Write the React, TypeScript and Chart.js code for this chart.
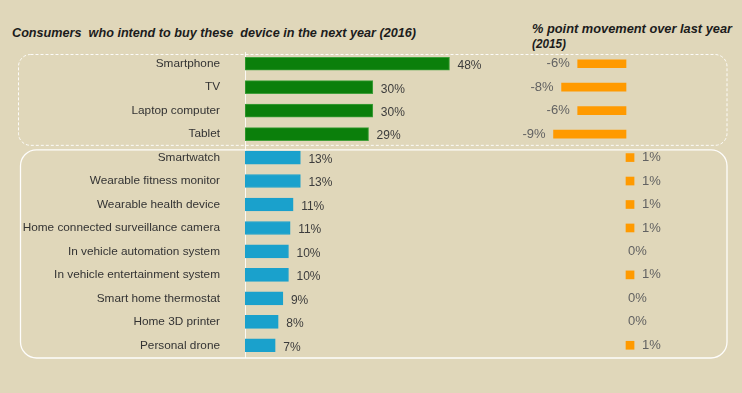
import React, { useEffect, useLayoutEffect, useRef } from "react";
import { Chart, registerables } from "chart.js";

Chart.register(...registerables);

// ---------- data ----------
const categories = [
  "Smartphone",
  "TV",
  "Laptop computer",
  "Tablet",
  "Smartwatch",
  "Wearable fitness monitor",
  "Wearable health device",
  "Home connected surveillance camera",
  "In vehicle automation system",
  "In vehicle entertainment system",
  "Smart home thermostat",
  "Home 3D printer",
  "Personal drone",
];
const intent2016 = [48, 30, 30, 29, 13, 13, 11.3, 10.6, 10.2, 10.2, 8.9, 7.8, 7.1];
const change2015 = [-6, -8, -6, -9, 1, 1, 1, 1, 0, 1, 0, 0, 1];
const topGroupSize = 4;

const leftTitle = "Consumers  who intend to buy these  device in the next year (2016)";
const rightTitle1 = "% point movement over last year";
const rightTitle2 = "(2015)";

// ---------- styles ----------
const BG = "#e0d7ba";
const GREEN = "#0b7f0b";
const GREEN_BORDER = "#3f9f3a";
const BLUE = "#1aa1cc";
const ORANGE = "#ff9a00";
const FONT = "'Liberation Sans', Arial, sans-serif";
const TITLE_FONT = "'Liberation Sans Narrow', 'Arial Narrow', 'Liberation Sans', Arial, sans-serif";

function roundRect(ctx: CanvasRenderingContext2D, x: number, y: number, w: number, h: number, r: number) {
  ctx.beginPath();
  ctx.moveTo(x + r, y);
  ctx.lineTo(x + w - r, y);
  ctx.arcTo(x + w, y, x + w, y + r, r);
  ctx.lineTo(x + w, y + h - r);
  ctx.arcTo(x + w, y + h, x + w - r, y + h, r);
  ctx.lineTo(x + r, y + h);
  ctx.arcTo(x, y + h, x, y + h - r, r);
  ctx.lineTo(x, y + r);
  ctx.arcTo(x, y, x + r, y, r);
  ctx.closePath();
}

const boxesPlugin = {
  id: "groupBoxes",
  beforeDatasetsDraw(chart: any) {
    const { ctx, chartArea } = chart;
    const yScale = chart.scales.y;
    const rowH = (chartArea.bottom - chartArea.top) / categories.length;
    const split = yScale.getPixelForValue(topGroupSize - 1) + rowH / 2;
    ctx.save();
    // top dashed box
    ctx.strokeStyle = "rgba(255,255,255,0.9)";
    ctx.lineWidth = 1;
    ctx.setLineDash([3, 2]);
    roundRect(ctx, 18.5, chartArea.top + 2.5, chartArea.right - 18.5, split - chartArea.top - 3, 12);
    ctx.stroke();
    // bottom solid box
    ctx.setLineDash([]);
    ctx.lineWidth = 1.3;
    ctx.strokeStyle = "rgba(255,255,255,0.95)";
    roundRect(ctx, 20.5, split + 4, chartArea.right - 20.5, chartArea.bottom + 1 - split - 4, 16);
    ctx.stroke();
    ctx.restore();
  },
};

const labelsPlugin = {
  id: "valueLabels",
  afterDatasetsDraw(chart: any) {
    const { ctx } = chart;
    ctx.save();
    ctx.textBaseline = "middle";
    const m0 = chart.getDatasetMeta(0);
    ctx.font = `12px ${FONT}`;
    ctx.fillStyle = "#3c3c3c";
    ctx.textAlign = "left";
    m0.data.forEach((el: any, i: number) => {
      ctx.fillText(Math.round(intent2016[i]) + "%", el.x + 8, el.y + 2);
    });
    const m1 = chart.getDatasetMeta(1);
    ctx.font = `13px ${FONT}`;
    ctx.fillStyle = "#626262";
    m1.data.forEach((el: any, i: number) => {
      const v = change2015[i];
      const txt = v + "%";
      if (v < 0) {
        ctx.textAlign = "right";
        ctx.fillText(txt, el.x - 8, el.y);
      } else if (v > 0) {
        ctx.textAlign = "left";
        ctx.fillText(txt, el.x + 8, el.y);
      } else {
        ctx.textAlign = "left";
        ctx.fillText(txt, el.x + 2, el.y);
      }
    });
    ctx.restore();
  },
};

function FitText(props: { text: string; left: number; top: number; width: number }) {
  const ref = useRef<HTMLSpanElement>(null);
  useLayoutEffect(() => {
    const el = ref.current;
    if (!el) return;
    el.style.transform = "none";
    const w = el.getBoundingClientRect().width;
    if (w > 0) el.style.transform = `scaleX(${props.width / w})`;
  }, [props.text, props.width]);
  return (
    <span
      ref={ref}
      style={{
        position: "absolute",
        left: props.left,
        top: props.top,
        whiteSpace: "pre",
        transformOrigin: "left center",
        font: `italic bold 13px/15px ${TITLE_FONT}`,
        color: "#1c1c1c",
      }}
    >
      {props.text}
    </span>
  );
}

export default function App() {
  const canvasRef = useRef<HTMLCanvasElement>(null);

  useEffect(() => {
    if (!canvasRef.current) return;
    const mainPxPerPct = 4.26;
    const chgPxPerPct = 8.05;
    const areaW = 482;
    const chgZeroOffset = 381;
    const chart = new Chart(canvasRef.current, {
      type: "bar",
      data: {
        labels: categories,
        datasets: [
          {
            data: intent2016,
            xAxisID: "x",
            backgroundColor: intent2016.map((_, i) => (i < topGroupSize ? GREEN : BLUE)),
            borderColor: intent2016.map((_, i) => (i < topGroupSize ? GREEN_BORDER : BLUE)),
            borderWidth: 1,
            borderSkipped: false,
            barThickness: 13,
            grouped: false,
          },
          {
            data: change2015,
            xAxisID: "x2",
            backgroundColor: change2015.map((v) => (v === 0 ? "rgba(0,0,0,0)" : ORANGE)),
            borderWidth: 0,
            barThickness: 8,
            grouped: false,
          },
        ],
      },
      options: {
        indexAxis: "y",
        animation: false,
        responsive: true,
        maintainAspectRatio: false,
        layout: { padding: { top: 52, bottom: 36, right: 15, left: 0 } },
        plugins: { legend: { display: false }, tooltip: { enabled: false } },
        scales: {
          x: { display: false, min: 0, max: areaW / mainPxPerPct },
          x2: {
            display: false,
            min: -chgZeroOffset / chgPxPerPct,
            max: (areaW - chgZeroOffset) / chgPxPerPct,
          },
          y: {
            afterFit: (scale: any) => {
              scale.width = 245;
            },
            grid: { display: false, drawTicks: false },
            border: { display: true, color: "rgba(255,255,255,0.85)", width: 1 },
            ticks: {
              padding: 25,
              color: "#333333",
              font: { size: 11.8, family: FONT },
            },
          },
        },
      },
      plugins: [boxesPlugin, labelsPlugin],
    } as any);
    return () => chart.destroy();
  }, []);

  return (
    <div
      style={{
        position: "absolute",
        left: 0,
        top: 0,
        width: 742,
        height: 393,
        background: BG,
        overflow: "hidden",
      }}
    >
      <FitText text={leftTitle} left={12} top={24.5} width={404} />
      <FitText text={rightTitle1} left={532} top={20.5} width={200} />
      <FitText text={rightTitle2} left={532} top={35.5} width={34} />
      <div style={{ position: "absolute", left: 0, top: 0, width: 742, height: 393 }}>
        <canvas ref={canvasRef} />
      </div>
    </div>
  );
}
